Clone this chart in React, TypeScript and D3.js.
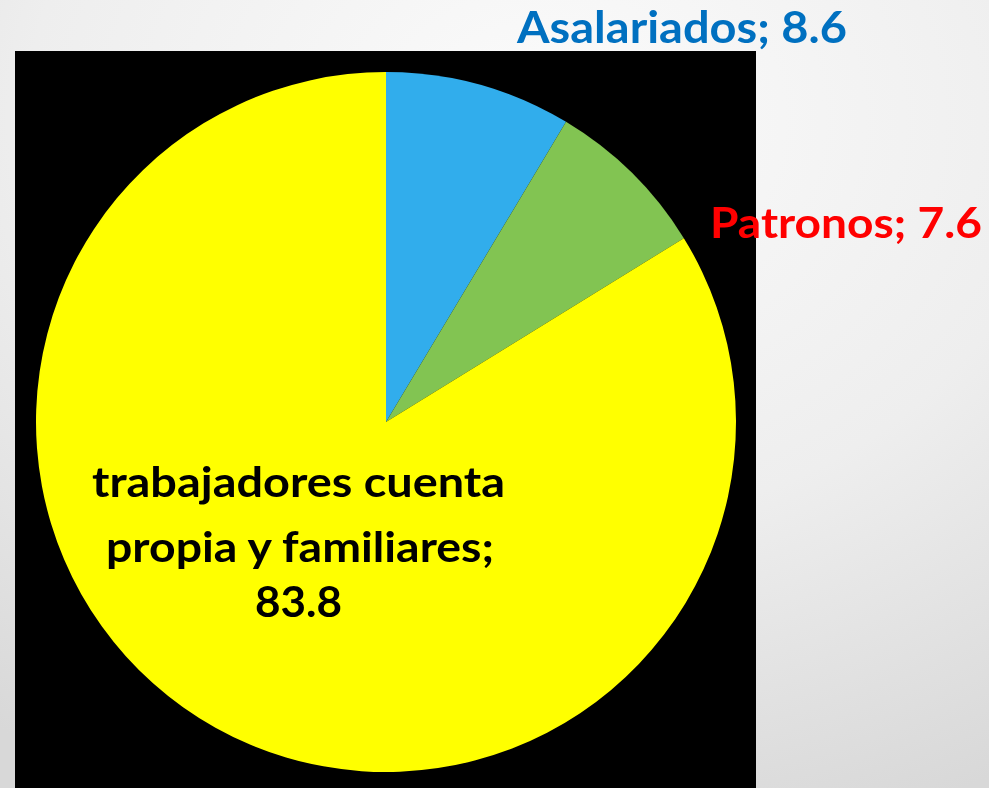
import React from "react";
import * as d3 from "d3";

const categories = ["Asalariados", "Patronos", "trabajadores cuenta propia y familiares"];
const values = [8.6, 7.6, 83.8];
const sliceColors = ["#31adec", "#82c452", "#ffff00"];
const labelColors = ["#0070c0", "#ff0000", "#000000"];

const W = 989;
const H = 788;

export default function App() {
  const cx = 386;
  const cy = 422;
  const r = 350;
  const data = categories.map((c, i) => ({ c, v: values[i], i }));
  const pie = d3.pie<any>().sort(null).value((d: any) => d.v);
  const arcs = pie(data);
  const arc = d3.arc<any>().innerRadius(0).outerRadius(r);
  const fmt = d3.format(".1f");
  const font = "Lato, 'Open Sans', sans-serif";

  return (
    <div style={{ position: "fixed", left: 0, top: 0, width: W, height: H }}>
      <svg width={W} height={H} style={{ display: "block" }}>
        <defs>
          <radialGradient id="bg" cx="55%" cy="15%" r="95%">
            <stop offset="0%" stopColor="#fbfbfb" />
            <stop offset="55%" stopColor="#eeeeee" />
            <stop offset="100%" stopColor="#d8d8d8" />
          </radialGradient>
        </defs>
        <rect x={0} y={0} width={W} height={H} fill="url(#bg)" />
        <rect x={15} y={51} width={741} height={H - 51} fill="#000000" />
        <g transform={`translate(${cx},${cy})`}>
          {arcs.map((a, i) => (
            <path key={i} d={arc(a) as string} fill={sliceColors[i]} />
          ))}
        </g>
        <text
          x={517}
          y={43}
          fill={labelColors[0]}
          fontFamily={font}
          fontWeight={700}
          fontSize={44}
          textLength={330}
          lengthAdjust="spacingAndGlyphs"
        >
          {`${categories[0]}; ${fmt(values[0])}`}
        </text>
        <text
          x={710}
          y={238}
          fill={labelColors[1]}
          fontFamily={font}
          fontWeight={700}
          fontSize={42}
          textLength={272}
          lengthAdjust="spacingAndGlyphs"
        >
          {`${categories[1]}; ${fmt(values[1])}`}
        </text>
        <g fill={labelColors[2]} fontFamily={font} fontWeight={700} fontSize={42}>
          <text x={92} y={497} textLength={413} lengthAdjust="spacingAndGlyphs">
            trabajadores cuenta
          </text>
          <text x={106} y={562} textLength={388} lengthAdjust="spacingAndGlyphs">
            propia y familiares;
          </text>
          <text x={255} y={617} textLength={87} lengthAdjust="spacingAndGlyphs">
            {fmt(values[2])}
          </text>
        </g>
      </svg>
    </div>
  );
}
